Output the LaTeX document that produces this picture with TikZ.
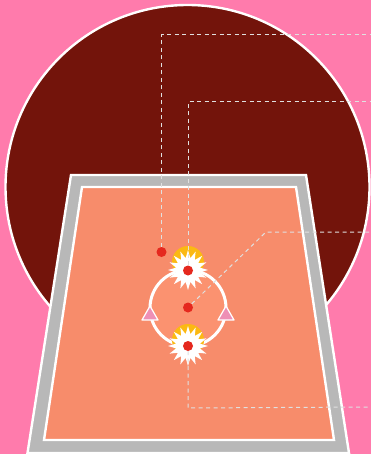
\documentclass[tikz,border=0pt]{standalone}
\usetikzlibrary{shapes.geometric}
\definecolor{bgpink}{HTML}{FF7BAC}
\definecolor{darkred}{HTML}{73140B}
\definecolor{framegray}{HTML}{B8B8B8}
\definecolor{courtorange}{HTML}{F78C6B}
\definecolor{ringorange}{HTML}{FB9270}
\definecolor{goldc}{HTML}{FBB913}
\definecolor{dotred}{HTML}{E5281E}
\definecolor{tripink}{HTML}{EE8FB5}
\tikzset{
  outline/.style={draw=white,line width=2.4pt,line join=miter},
  leader/.style={draw=white!88!black,line width=1pt,dash pattern=on 4pt off 3.5pt},
  dot/.style={circle,fill=dotred,inner sep=0pt,minimum size=10pt},
  glow/.style={circle,fill=goldc,inner sep=0pt,minimum size=32pt},
  burst/.style={star,star points=16,star point ratio=1.65,fill=white,inner sep=0pt,minimum size=40pt},
  marker/.style={draw=white,line width=1.2pt,fill=tripink,line join=round}
}
\begin{document}
\begin{tikzpicture}[x=1pt,y=-1pt]
\useasboundingbox (0,0) rectangle (371,454);
\fill[bgpink] (0,0) rectangle (371,454);
\filldraw[fill=darkred,draw=white,line width=2.4pt] (187.5,187) circle (182);
\filldraw[fill=framegray,outline] (71,175) -- (306,175) -- (349,453) -- (27.5,453) -- cycle;
\filldraw[fill=courtorange,outline] (82,187) -- (296,187) -- (334,440) -- (44,440) -- cycle;
\filldraw[fill=ringorange,draw=white,line width=3pt] (188,308) circle (38);
\node[glow] (glowa) at (188,262) {};
\node[glow] (glowb) at (188,340) {};
\node[burst] (burstA) at (188,270) {};
\node[burst] (burstB) at (188,346) {};
\filldraw[marker] (150,306) -- (158,320) -- (142,320) -- cycle;
\filldraw[marker] (226,306) -- (234,320) -- (218,320) -- cycle;
\node[dot] (da) at (161.5,252) {};
\node[dot] (db) at (188,270.5) {};
\node[dot] (dc) at (188,307.5) {};
\node[dot] (dd) at (188,346) {};
\coordinate (ea) at (371,35);
\coordinate (eb) at (371,102);
\coordinate (ec) at (371,232);
\coordinate (ed) at (371,407);
\draw[leader] (da) -- (161.5,35) -- (ea);
\draw[leader] (db) -- (188,102) -- (eb);
\draw[leader] (dc) -- (266,232) -- (ec);
\draw[leader] (dd) -- (188,408) -- (ed);
\end{tikzpicture}
\end{document}
